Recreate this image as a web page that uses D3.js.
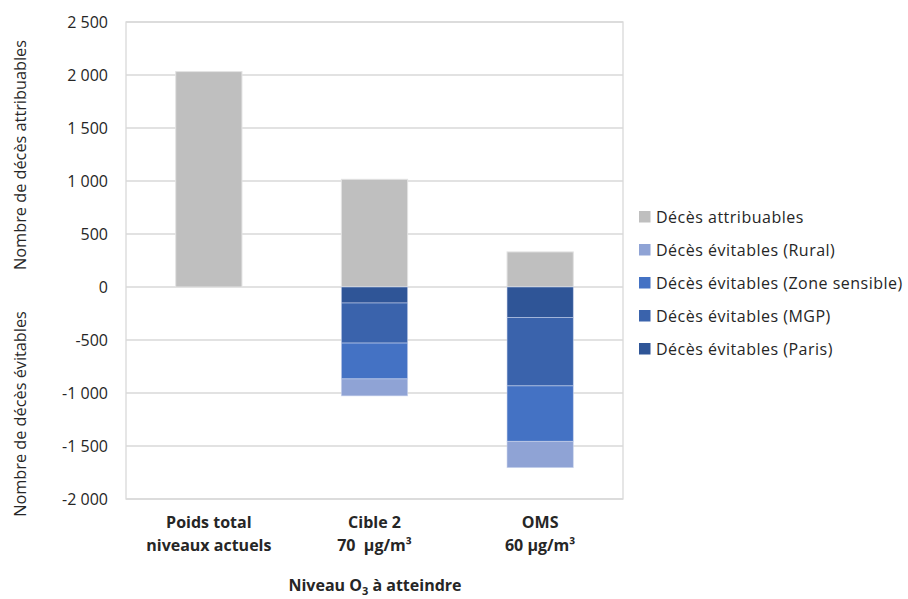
<!DOCTYPE html>
<html><head><meta charset="utf-8">
<script src="https://cdn.jsdelivr.net/npm/d3@7"></script>
<style>body{margin:0;background:#fff;} text{font-family:"Open Sans",sans-serif;fill:#262626;white-space:pre;}</style>
</head><body><svg id="c" width="908" height="599"></svg>
<script>
const categories = [["Poids total","niveaux actuels"],["Cible 2","70  µg/m³"],["OMS","60 µg/m³"]];
const attribuables = [2032, 1016, 331];
const evitParis = [0, 151, 287];
const evitMGP = [0, 378, 646];
const evitZone = [0, 338, 523];
const evitRural = [0, 160, 248];
const yTicks = [2500, 2000, 1500, 1000, 500, 0, -500, -1000, -1500, -2000];
const seriesNames = ["Décès attribuables","Décès évitables (Rural)","Décès évitables (Zone sensible)","Décès évitables (MGP)","Décès évitables (Paris)"];
const colors = ["#BFBFBF","#8FA3D5","#4472C4","#3A63AC","#2F5597"];

const svg = d3.select("#c");
const L = 126, R = 623, T = 22, B = 499;
const y = d3.scaleLinear().domain([-2000, 2500]).range([B, T]);
const x = d3.scaleBand().domain(d3.range(categories.length)).range([L, R]).paddingInner(0.6).paddingOuter(0.3);

// gridlines
svg.append("g").selectAll("line").data(yTicks).join("line")
  .attr("x1", L).attr("x2", R).attr("y1", d => y(d)).attr("y2", d => y(d))
  .attr("stroke", "#D9D9D9").attr("stroke-width", 1.3);
svg.append("rect").attr("x", L).attr("y", T).attr("width", R - L).attr("height", B - T)
  .attr("fill", "none").attr("stroke", "#D9D9D9").attr("stroke-width", 1.3);

// y tick labels
const fmt = v => (v < 0 ? "-" : "") + d3.format(",")(Math.abs(v)).replace(/,/g, "\u00a0");
svg.append("g").selectAll("text").data(yTicks).join("text")
  .attr("x", 108).attr("y", d => y(d)).attr("dy", "0.35em").attr("text-anchor", "end")
  .style("font-size", "16px").text(fmt);

// bars
const g = svg.append("g");
categories.forEach((c, i) => {
  g.append("rect").attr("x", x(i)).attr("width", x.bandwidth())
    .attr("y", y(attribuables[i])).attr("height", y(0) - y(attribuables[i]))
    .attr("fill", colors[0]).attr("stroke", "#E3E3E3").attr("stroke-width", 1);
  const segs = [[evitParis[i], colors[4]], [evitMGP[i], colors[3]], [evitZone[i], colors[2]], [evitRural[i], colors[1]]];
  let cum = 0;
  segs.forEach(([v, col]) => {
    if (v <= 0) return;
    g.append("rect").attr("x", x(i)).attr("width", x.bandwidth())
      .attr("y", y(-cum)).attr("height", y(-cum - v) - y(-cum))
      .attr("fill", col).attr("stroke", "#C9D3EC").attr("stroke-width", 0.8).attr("stroke-opacity", 0.7);
    cum += v;
  });
});

// category labels
categories.forEach((c, i) => {
  const t = svg.append("text").attr("x", x(i) + x.bandwidth() / 2).attr("text-anchor", "middle")
    .style("font-size", "16px").style("font-weight", "bold");
  t.append("tspan").attr("x", x(i) + x.bandwidth() / 2).attr("y", 528).text(c[0]);
  t.append("tspan").attr("x", x(i) + x.bandwidth() / 2).attr("y", 551).text(c[1]);
});

// x axis title
const xt = svg.append("text").attr("x", 375).attr("y", 591).attr("text-anchor", "middle")
  .style("font-size", "16px").style("font-weight", "bold");
xt.append("tspan").text("Niveau O");
xt.append("tspan").attr("dy", 4).style("font-size", "11px").text("3");
xt.append("tspan").attr("dy", -4).text(" à atteindre");

// y axis titles
svg.append("text").attr("transform", "translate(26,155) rotate(-90)").attr("text-anchor", "middle")
  .style("font-size", "16.3px").text("Nombre de décès attribuables");
svg.append("text").attr("transform", "translate(26,414) rotate(-90)").attr("text-anchor", "middle")
  .style("font-size", "16.3px").text("Nombre de décès évitables");

// legend
const lg = svg.append("g").selectAll("g").data(seriesNames).join("g")
  .attr("transform", (d, i) => `translate(639,${217 + i * 33})`);
lg.append("rect").attr("x", 0).attr("y", -6).attr("width", 11.5).attr("height", 11.5).attr("fill", (d, i) => colors[i]);
lg.append("text").attr("x", 17).attr("y", 0).attr("dy", "0.35em").style("font-size", "16px")
  .style("letter-spacing", "0.5px").text(d => d);
</script></body></html>
